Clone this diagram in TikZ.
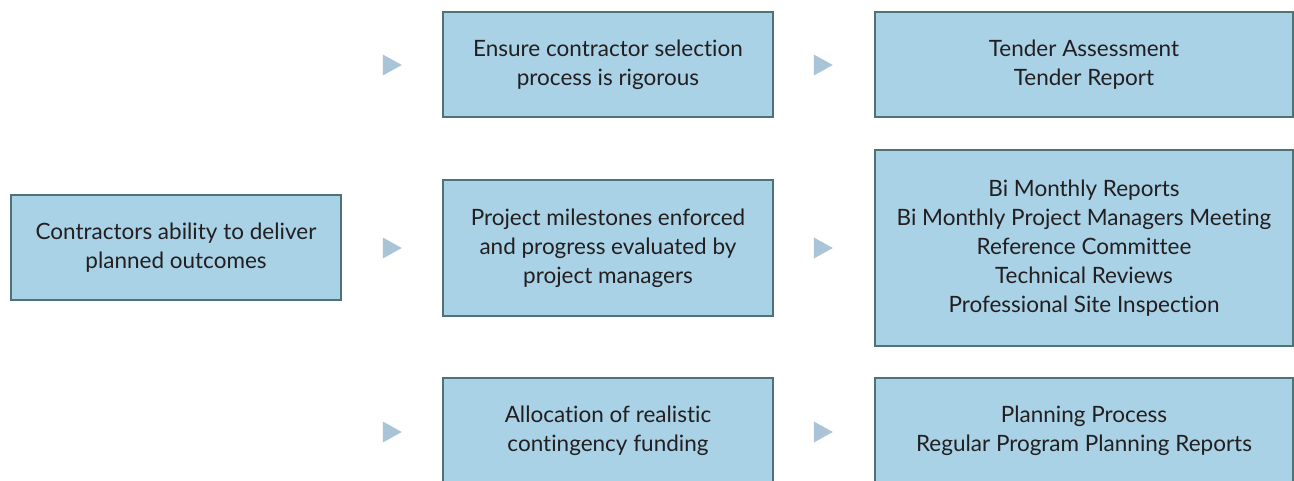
\documentclass[tikz,border=0pt]{standalone}
\usepackage{fontspec}
\setmainfont{Lato}[Ligatures=NoCommon]
\usetikzlibrary{shapes.geometric}
\definecolor{boxfill}{HTML}{A9D2E6}
\definecolor{boxline}{HTML}{4D7374}
\definecolor{trifill}{HTML}{A9C4D6}
\definecolor{txt}{HTML}{231F20}
\tikzset{
  box/.style={rectangle, draw=boxline, fill=boxfill, line width=2.5pt, text=txt,
    align=center, font=\fontsize{22.5}{29}\selectfont, inner sep=0pt},
  tri/.style={isosceles triangle, isosceles triangle stretches, shape border rotate=0,
    fill=trifill, draw=none, minimum height=19pt, minimum width=21pt, inner sep=0pt}
}
\begin{document}
\begin{tikzpicture}[x=1pt,y=-1pt]
\clip (0,0) rectangle (1294,480);
\fill[white] (0,0) rectangle (1294,480);
\node[box, minimum width=330pt, minimum height=105pt] (src) at (176,247.5) {Contractors ability to deliver\\planned outcomes};
\node[box, minimum width=330pt, minimum height=105pt] (m1) at (608,64.5) {Ensure contractor selection\\process is rigorous};
\node[box, minimum width=330pt, minimum height=136pt] (m2) at (608,248) {Project milestones enforced\\and progress evaluated by\\project managers};
\node[box, minimum width=330pt, minimum height=105pt] (m3) at (608,430.5) {Allocation of realistic\\contingency funding};
\node[box, minimum width=418pt, minimum height=105pt] (r1) at (1084,64.5) {Tender Assessment\\Tender Report};
\node[box, minimum width=418pt, minimum height=196pt] (r2) at (1084,248) {Bi Monthly Reports\\Bi Monthly Project Managers Meeting\\Reference Committee\\Technical Reviews\\Professional Site Inspection};
\node[box, minimum width=418pt, minimum height=105pt] (r3) at (1084,430.5) {Planning Process\\Regular Program Planning Reports};
\node[tri] (a1) at (389,65) {};
\node[tri] (a2) at (389,248) {};
\node[tri] (a3) at (389,432) {};
\node[tri] (b1) at (820,65) {};
\node[tri] (b2) at (820,248) {};
\node[tri] (b3) at (820,432) {};
\end{tikzpicture}
\end{document}
